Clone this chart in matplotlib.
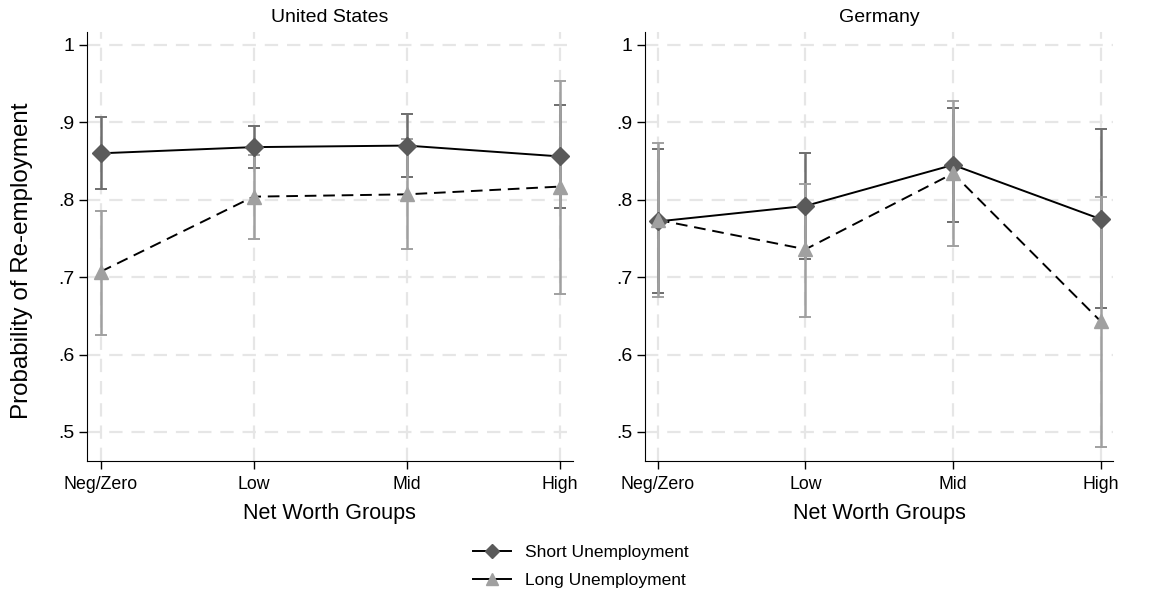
import numpy as np
import matplotlib
matplotlib.use("Agg")
import matplotlib.pyplot as plt
from matplotlib.lines import Line2D

plt.rcParams["font.family"] = ["Liberation Sans", "DejaVu Sans"]

# ---- data ----
grupos = ["Neg/Zero", "Low", "Mid", "High"]
paneles = ["United States", "Germany"]

us_short = [0.860, 0.868, 0.870, 0.856]
us_short_lo = [0.814, 0.841, 0.829, 0.789]
us_short_hi = [0.907, 0.895, 0.911, 0.923]
us_long = [0.707, 0.804, 0.807, 0.817]
us_long_lo = [0.625, 0.749, 0.736, 0.678]
us_long_hi = [0.786, 0.858, 0.878, 0.954]

de_short = [0.772, 0.792, 0.845, 0.775]
de_short_lo = [0.679, 0.724, 0.771, 0.660]
de_short_hi = [0.865, 0.861, 0.918, 0.892]
de_long = [0.774, 0.736, 0.834, 0.643]
de_long_lo = [0.675, 0.649, 0.740, 0.481]
de_long_hi = [0.873, 0.820, 0.927, 0.803]

yticks = [0.5, 0.6, 0.7, 0.8, 0.9, 1.0]
yticklabels = [".5", ".6", ".7", ".8", ".9", "1"]

c_short = "#5a5a5a"
c_short_err = "#6e6e6e"
c_long = "#a0a0a0"

fig = plt.figure(figsize=(11.62, 5.92), dpi=100)
ax1 = fig.add_axes([0.0749, 0.2213, 0.418, 0.725])
ax2 = fig.add_axes([0.555, 0.2213, 0.403, 0.725])

datos = [
    (us_short, us_short_lo, us_short_hi, us_long, us_long_lo, us_long_hi),
    (de_short, de_short_lo, de_short_hi, de_long, de_long_lo, de_long_hi),
]

x = np.arange(len(grupos))
for ax, titulo, d in zip([ax1, ax2], paneles, datos):
    s, slo, shi, l, llo, lhi = [np.array(v) for v in d]
    # grid
    for yt in yticks:
        ax.axhline(yt, color="#e6e6e6", lw=1.6, ls=(0, (6, 4)), zorder=0)
    for xt in x:
        ax.axvline(xt, color="#e6e6e6", lw=1.6, ls=(0, (6, 4)), zorder=0)
    # lines
    ax.plot(x, s, color="black", lw=1.4, zorder=3)
    ax.plot(x, l, color="black", lw=1.4, ls=(0, (6, 3.5)), zorder=3)
    # error bars
    ax.errorbar(x, s, yerr=[s - slo, shi - s], fmt="none", ecolor=c_short_err,
                elinewidth=1.8, capsize=4, capthick=1.4, zorder=2)
    ax.errorbar(x, l, yerr=[l - llo, lhi - l], fmt="none", ecolor=c_long,
                elinewidth=1.8, capsize=4, capthick=1.4, zorder=2)
    # markers
    ax.plot(x, s, ls="none", marker="D", ms=9, color=c_short, zorder=4)
    ax.plot(x, l, ls="none", marker="^", ms=10, color=c_long, zorder=4)

    ax.set_xlim(-0.088, 3.085)
    ax.set_ylim(0.4625, 1.017)
    ax.set_xticks(x)
    ax.set_xticklabels(grupos, fontsize=12.8)
    ax.set_yticks(yticks)
    ax.set_yticklabels(yticklabels, fontsize=14)
    ax.tick_params(axis="x", length=6, width=1, pad=5)
    ax.tick_params(axis="y", length=6, width=1, pad=3)
    ax.spines["top"].set_visible(False)
    ax.spines["right"].set_visible(False)
    ax.set_title(titulo, fontsize=14, pad=7)
    ax.set_xlabel("Net Worth Groups", fontsize=15.5, labelpad=7)

ax1.set_ylabel("Probability of Re-employment", fontsize=17.4)
ax1.yaxis.set_label_coords(-0.112, 0.466)

handles = [
    Line2D([0], [0], color="black", lw=1.4, marker="D", ms=7, mfc=c_short, mec=c_short),
    Line2D([0], [0], color="black", lw=1.4, marker="^", ms=8, mfc=c_long, mec=c_long),
]
fig.legend(handles, ["Short Unemployment", "Long Unemployment"], loc="center",
           bbox_to_anchor=(0.5, 0.043), frameon=False, fontsize=12.5,
           handlelength=2.2, labelspacing=0.75)

fig.savefig("out.png", dpi=100)
